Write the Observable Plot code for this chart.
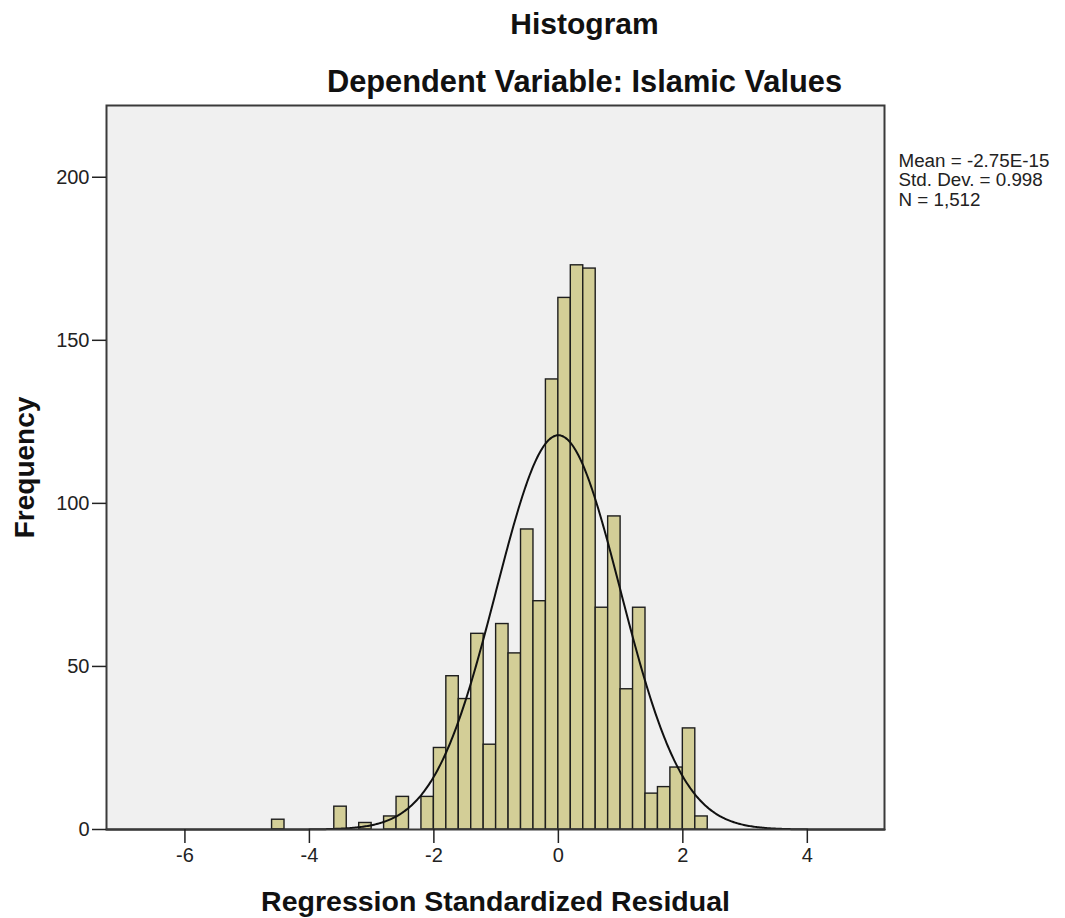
<!DOCTYPE html>
<html>
<head>
<meta charset="utf-8">
<script src="https://cdn.jsdelivr.net/npm/d3@7"></script>
<script src="https://cdn.jsdelivr.net/npm/@observablehq/plot@0.6"></script>
<style>
  html, body { margin: 0; padding: 0; background: #ffffff; }
  #chart svg { display: block; overflow: visible; }
</style>
</head>
<body>
<div id="chart"></div>
<script>
// ---- Data ----
const binStarts = [-4.6, -3.6, -3.2, -2.8, -2.6, -2.2, -2.0, -1.8, -1.6, -1.4, -1.2, -1.0, -0.8, -0.6,
                   -0.4, -0.2, 0.0, 0.2, 0.4, 0.6, 0.8, 1.0, 1.2, 1.4, 1.6, 1.8, 2.0, 2.2];
const counts    = [3, 7, 2, 4, 10, 10, 25, 47, 40, 60, 26, 63, 54, 92,
                   70, 138, 163, 173, 172, 68, 96, 43, 68, 11, 13, 19, 31, 4];
const binWidth = 0.2;

// Statistics shown in the legend (used for the fitted normal curve)
const statMean = -2.75e-15;
const statSD = 0.998;
const statN = 1512;
const statLines = ["Mean = -2.75E-15", "Std. Dev. = 0.998", "N = 1,512"];

const xTicks = [-6, -4, -2, 0, 2, 4];
const yTicks = [0, 50, 100, 150, 200];
const xDomain = [-7.26, 5.24];
const yDomain = [0, 222];

const titleText = "Histogram";
const subtitleText = "Dependent Variable: Islamic Values";
const xLabel = "Regression Standardized Residual";
const yLabel = "Frequency";

// ---- Build tables ----
const bars = binStarts.map((s, i) => ({x1: s, x2: +(s + binWidth).toFixed(2), y: counts[i]}));
const normalPdf = x => Math.exp(-0.5 * ((x - statMean) / statSD) ** 2) / (statSD * Math.sqrt(2 * Math.PI));
const curve = d3.range(xDomain[0], xDomain[1] + 1e-9, 0.02).map(x => ({x, y: statN * binWidth * normalPdf(x)}));
const statRows = statLines.map((t, i) => ({t, i}));

const font = "'Liberation Sans', Arial, Helvetica, sans-serif";

const chart = Plot.plot({
  width: 1065,
  height: 918,
  marginLeft: 106,
  marginRight: 181,
  marginTop: 105,
  marginBottom: 89,
  style: {fontFamily: font, background: "#ffffff", color: "#222222", overflow: "visible"},
  x: {domain: xDomain},
  y: {domain: yDomain},
  marks: [
    Plot.frame({fill: "#f0f0f0", stroke: null}),
    Plot.rectY(bars, {x1: "x1", x2: "x2", y: "y", fill: "#d3ce97", stroke: "#1e1e1e", strokeWidth: 1.4}),
    Plot.line(curve, {x: "x", y: "y", stroke: "#111111", strokeWidth: 2}),
    Plot.frame({stroke: "#3a3a3a", strokeWidth: 2}),
    Plot.axisX({ticks: xTicks, tickSize: 14, tickPadding: 4, fontSize: 20, label: null,
                stroke: "#222222", strokeWidth: 1.5, tickFormat: d => String(d)}),
    Plot.axisY({ticks: yTicks, tickSize: 14, tickPadding: 3, fontSize: 20, label: null,
                stroke: "#222222", strokeWidth: 1.5, tickFormat: d => String(d)}),
    Plot.text([titleText], {text: d => d, frameAnchor: "top", dx: 89, dy: -71.5, lineAnchor: "bottom",
                fontSize: 30, fontWeight: "bold", fill: "#111111"}),
    Plot.text([subtitleText], {text: d => d, frameAnchor: "top", dx: 89, dy: -13.5, lineAnchor: "bottom",
                fontSize: 30.8, fontWeight: "bold", fill: "#111111"}),
    Plot.text([xLabel], {text: d => d, frameAnchor: "bottom", dy: 81.7, lineAnchor: "bottom",
                fontSize: 28.5, fontWeight: "bold", fill: "#111111"}),
    Plot.text([yLabel], {text: d => d, frameAnchor: "left", textAnchor: "middle", dx: -73, rotate: -90,
                lineAnchor: "bottom", fontSize: 28, fontWeight: "bold", fill: "#111111"}),
    ...statRows.map(r => Plot.text([r], {text: "t", frameAnchor: "top-right", textAnchor: "start",
                dx: 14, dy: 61.5 + r.i * 19.4, lineAnchor: "bottom", fontSize: 18.8, fill: "#222222"}))
  ]
});
document.getElementById("chart").appendChild(chart);
</script>
</body>
</html>
